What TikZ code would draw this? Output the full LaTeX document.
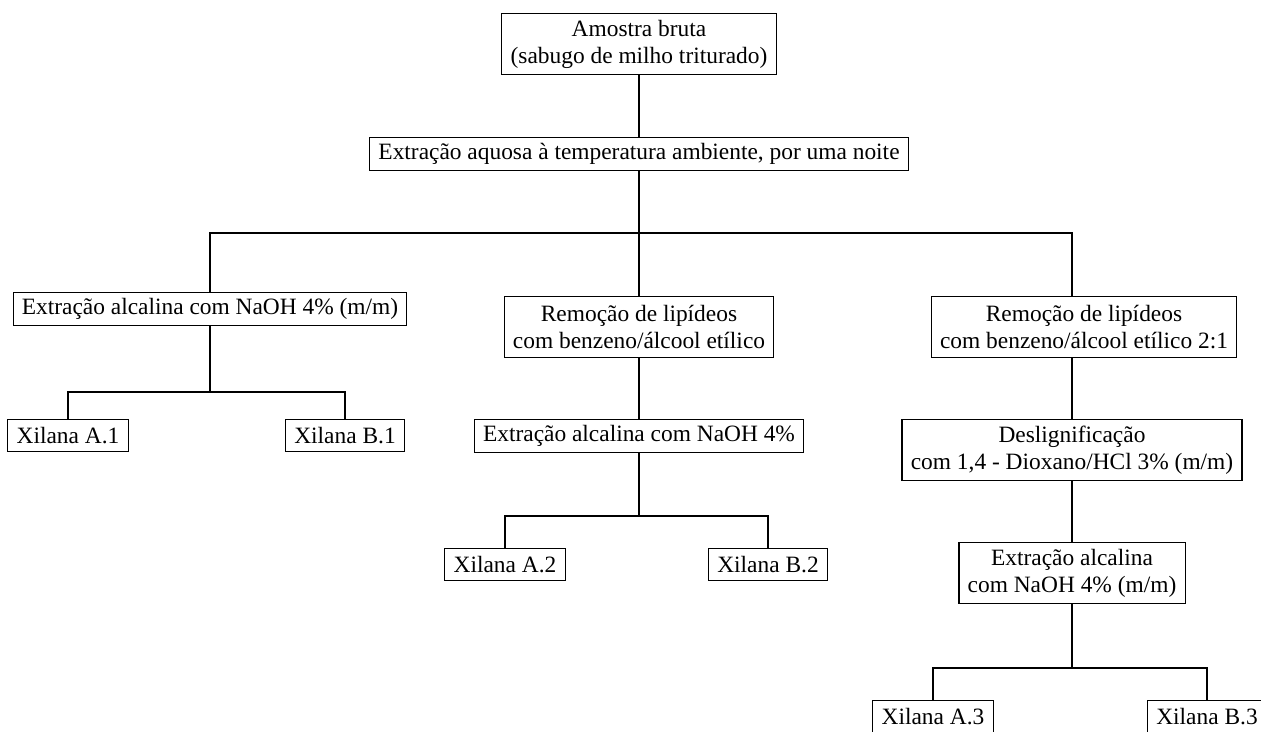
\documentclass[tikz,border=0pt]{standalone}
\usepackage{fontspec}
\setmainfont{Liberation Serif}
\usetikzlibrary{positioning}

\begin{document}
\begin{tikzpicture}[
  x=0.5128pt, y=-0.5128pt,
  font=\fontsize{12}{13.8}\selectfont,
  line width=0.6pt,
  stage/.style ={draw, align=center, inner xsep=4.5pt, inner ysep=2pt, minimum height=16.9pt, anchor=north},
  stage2/.style={stage, minimum height=31.3pt},
  xil/.style   ={stage, minimum height=16.5pt},
]
\useasboundingbox (0,0) rectangle (1261,732);

% ---------- trunk: raw sample + water extraction ----------
\node[stage2] (amostra) at (639,13)  {Amostra bruta\\(sabugo de milho triturado)};
\node[stage]  (aquosa)  at (639,137) {Extração aquosa à temperatura ambiente, por uma noite};
\coordinate (bus) at (639,233);
\coordinate (bus3) at (1072,233);

% ---------- three routes ----------
\node[stage]  (alc1) at (210,292)  {Extração alcalina com NaOH 4\% (m/m)};
\node[stage2] (lip2) at (639,296)  {Remoção de lipídeos\\com benzeno/álcool etílico};
\node[stage2] (lip3) at (1084,296) {Remoção de lipídeos\\com benzeno/álcool etílico 2:1};

\node[stage]  (alc2)  at (639,419)  {Extração alcalina com NaOH 4\%};
\node[stage2] (desl3) at (1072,419) {Deslignificação\\com 1,4 - Dioxano/HCl 3\% (m/m)};
\node[stage2] (alc3)  at (1072,542) {Extração alcalina\\com NaOH 4\% (m/m)};

% ---------- xylan fractions ----------
\node[xil] (xa1) at (68,419)   {Xilana A.1};
\node[xil] (xb1) at (345,419)  {Xilana B.1};
\node[xil] (xa2) at (505,548)  {Xilana A.2};
\node[xil] (xb2) at (768,548)  {Xilana B.2};
\node[xil] (xa3) at (933,700)  {Xilana A.3};
\node[xil] (xb3) at (1207,700) {Xilana B.3};

\coordinate (k1) at (210,392);
\coordinate (k2) at (639,516);
\coordinate (k3) at (1072,668);

% straight steps
\foreach \a/\b in {amostra/aquosa,aquosa/lip2,lip2/alc2,desl3/alc3}
  \draw (\a) -- (\b);
\draw (desl3.north) -- (desl3.north |- lip3.south);

% split into the three routes
\draw (alc1.north) |- (bus) -- (bus3) -- (bus3 |- lip3.north);

% A/B split under each alkaline extraction
\foreach \s/\k/\a/\b in {alc1/k1/xa1/xb1,alc2/k2/xa2/xb2,alc3/k3/xa3/xb3} {
  \draw (\s) -- (\k);
  \draw (\a.north) |- (\k) -| (\b.north);
}

\end{tikzpicture}
\end{document}
